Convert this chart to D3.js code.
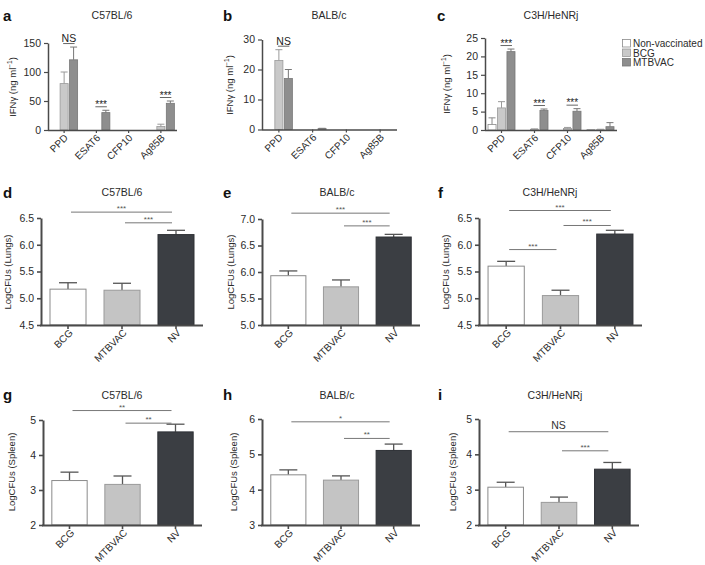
<!DOCTYPE html>
<html>
<head>
<meta charset="utf-8">
<script src="https://cdn.jsdelivr.net/npm/d3@7"></script>
<style>
  body { margin: 0; background: #fff; }
  svg { display: block; font-family: "Liberation Sans", Arial, Helvetica, sans-serif; }
</style>
</head>
<body>
<script>
// ---------------- DATA ----------------
const antigens = ["PPD", "ESAT6", "CFP10", "Ag85B"];
const vaccineSeries = ["Non-vaccinated", "BCG", "MTBVAC"];
const challengeGroups = ["BCG", "MTBVAC", "NV"];

// IFN-gamma (ng/ml) — panel a C57BL/6
const aNonVac = [0, 0, 0, 0];
const aBCG = [80, 0, 0, 6];
const aMTBVAC = [121, 30, 0, 46];
const aNonVacErr = [0, 0, 0, 0];
const aBCGErr = [20, 0, 0, 4];
const aMTBVACErr = [22, 4, 0, 4];
const aSig = [["PPD", "NS"], ["ESAT6", "***"], ["Ag85B", "***"]];
const aTicks = [0, 50, 100, 150];

// panel b BALB/c
const bNonVac = [0, 0, 0, 0];
const bBCG = [23, 0, 0, 0];
const bMTBVAC = [17, 0.3, 0, 0];
const bNonVacErr = [0, 0, 0, 0];
const bBCGErr = [3.6, 0, 0, 0];
const bMTBVACErr = [3, 0.1, 0, 0];
const bSig = [["PPD", "NS"]];
const bTicks = [0, 10, 20, 30];

// panel c C3H/HeNRj
const cNonVac = [1.5, 0, 0, 0.1];
const cBCG = [6.0, 0.2, 0.4, 0.1];
const cMTBVAC = [21.3, 5.3, 5.1, 0.9];
const cNonVacErr = [1.8, 0, 0, 0];
const cBCGErr = [1.7, 0.1, 0.3, 0.1];
const cMTBVACErr = [0.7, 0.4, 0.7, 1.1];
const cSig = [["PPD", "***"], ["ESAT6", "***"], ["CFP10", "***"]];
const cTicks = [0, 5, 10, 15, 20, 25];

// LogCFUs (Lungs)
const dValues = [5.17, 5.15, 6.19];
const dErr = [0.12, 0.13, 0.08];
const dSig = [["BCG", "NV", 6.61, "***"], ["MTBVAC", "NV", 6.41, "***"]];
const dTicks = [4.5, 5.0, 5.5, 6.0, 6.5];

const eValues = [5.93, 5.72, 6.66];
const eErr = [0.09, 0.13, 0.05];
const eSig = [["BCG", "NV", 7.11, "***"], ["MTBVAC", "NV", 6.87, "***"]];
const eTicks = [5.0, 5.5, 6.0, 6.5, 7.0];

const fValues = [5.60, 5.05, 6.20];
const fErr = [0.09, 0.10, 0.07];
const fSig = [["BCG", "NV", 6.64, "***"], ["MTBVAC", "NV", 6.36, "***"], ["BCG", "MTBVAC", 5.91, "***"]];
const fTicks = [4.5, 5.0, 5.5, 6.0, 6.5];

// LogCFUs (Spleen)
const gValues = [3.27, 3.16, 4.66];
const gErr = [0.24, 0.24, 0.22];
const gSig = [["BCG", "NV", 5.27, "**"], ["MTBVAC", "NV", 4.91, "**"]];
const gTicks = [2, 3, 4, 5];

const hValues = [4.42, 4.27, 5.11];
const hErr = [0.14, 0.12, 0.18];
const hSig = [["BCG", "NV", 5.92, "*"], ["MTBVAC", "NV", 5.45, "**"]];
const hTicks = [3, 4, 5, 6];

const iValues = [3.07, 2.64, 3.58];
const iErr = [0.14, 0.15, 0.19];
const iSig = [["BCG", "NV", 4.64, "NS"], ["MTBVAC", "NV", 4.10, "***"]];
const iTicks = [2, 3, 4, 5];

// ---------------- STYLE ----------------
const AXIS = "#4a4a4a";
const TXT = "#2b2b2b";
const topFill = { "Non-vaccinated": "#ffffff", "BCG": "#c9c9c9", "MTBVAC": "#8e8e8e" };
const topStroke = { "Non-vaccinated": "#8a8a8a", "BCG": "#9a9a9a", "MTBVAC": "#777777" };
const botFill = { "BCG": "#ffffff", "MTBVAC": "#c4c4c4", "NV": "#3b3e43" };
const botStroke = { "BCG": "#8a8a8a", "MTBVAC": "#9a9a9a", "NV": "#2e3035" };

const svg = d3.select("body").append("svg").attr("width", 705).attr("height", 565);

function panelLabel(txt, x, y) {
  svg.append("text").attr("x", x).attr("y", y).attr("font-size", 15).attr("font-weight", "bold")
    .attr("fill", "#111").text(txt);
}
function title(txt, x, y) {
  svg.append("text").attr("x", x).attr("y", y).attr("text-anchor", "middle").attr("font-size", 10.5)
    .attr("fill", TXT).text(txt);
}
function styleAxis(g, w) {
  g.select(".domain").attr("stroke", AXIS).attr("stroke-width", w);
  g.selectAll(".tick line").attr("stroke", AXIS).attr("stroke-width", w * 0.8);
  g.selectAll(".tick text").attr("fill", TXT).attr("font-family", "Liberation Sans, Arial, sans-serif");
}
function rotatedLabels(g, x, yBot, dx, dy) {
  x.domain().forEach(k => {
    const cx = x(k) + x.bandwidth() / 2 + dx;
    g.append("text")
      .attr("transform", `translate(${cx},${yBot + dy}) rotate(-45)`)
      .attr("text-anchor", "end").attr("font-size", 10).attr("fill", TXT)
      .attr("dy", "0.35em").text(k);
  });
}

function yTitleIFN(x, cy) {
  const t = svg.append("text").attr("transform", `translate(${x},${cy}) rotate(-90)`)
    .attr("text-anchor", "middle").attr("font-size", 9.5).attr("fill", TXT);
  t.append("tspan").text("IFNγ (ng ml");
  t.append("tspan").attr("font-size", 6.5).attr("dy", -4).text("−1");
  t.append("tspan").attr("dy", 4).text(")");
}
function yTitleText(txt, x, cy) {
  svg.append("text").attr("transform", `translate(${x},${cy}) rotate(-90)`)
    .attr("text-anchor", "middle").attr("font-size", 9.5).attr("fill", TXT).text(txt);
}

function topPanel(p) {
  const g = svg.append("g");
  const y = d3.scaleLinear().domain([0, p.ticks[p.ticks.length - 1]]).range([p.yBot, p.yTop]);
  const x = d3.scaleBand().domain(antigens).range([p.x0, p.x1]).padding(0);
  const xs = d3.scaleBand().domain(vaccineSeries).range([-13.5, 13.5]).paddingInner(0.15);
  const series = [
    { name: "Non-vaccinated", v: p.nv, e: p.nvErr },
    { name: "BCG", v: p.bcg, e: p.bcgErr },
    { name: "MTBVAC", v: p.mtb, e: p.mtbErr }
  ];
  const cx = (a, s) => x(a) + x.bandwidth() / 2 + xs(s) + xs.bandwidth() / 2;
  series.forEach(s => {
    antigens.forEach((a, i) => {
      const v = s.v[i], e = s.e[i];
      if (v > 0) {
        g.append("rect").attr("x", x(a) + x.bandwidth() / 2 + xs(s.name)).attr("width", xs.bandwidth())
          .attr("y", y(v)).attr("height", p.yBot - y(v))
          .attr("fill", topFill[s.name]).attr("stroke", topStroke[s.name]).attr("stroke-width", 0.8);
      }
      if (e > 0) {
        const c = cx(a, s.name);
        g.append("line").attr("x1", c).attr("x2", c).attr("y1", y(v)).attr("y2", y(v + e))
          .attr("stroke", topStroke[s.name]).attr("stroke-width", 1);
        g.append("line").attr("x1", c - 3.5).attr("x2", c + 3.5).attr("y1", y(v + e)).attr("y2", y(v + e))
          .attr("stroke", topStroke[s.name]).attr("stroke-width", 1);
      }
    });
  });
  // significance
  p.sig.forEach(([a, label]) => {
    const i = antigens.indexOf(a);
    const top = Math.max(p.bcg[i] + p.bcgErr[i], p.mtb[i] + p.mtbErr[i]);
    const ly = y(top) - 3.5;
    const x1 = cx(a, "BCG") - 1, x2 = cx(a, "MTBVAC") + 1;
    g.append("line").attr("x1", x1).attr("x2", x2).attr("y1", ly).attr("y2", ly)
      .attr("stroke", "#555").attr("stroke-width", 0.9);
    g.append("text").attr("x", (x1 + x2) / 2).attr("y", label === "NS" ? ly - 1.5 : ly + 1)
      .attr("text-anchor", "middle").attr("font-size", label === "NS" ? 10.5 : 10)
      .attr("fill", "#222").text(label);
  });
  // axes
  const ya = g.append("g").attr("transform", `translate(${p.x0},0)`)
    .call(d3.axisLeft(y).tickValues(p.ticks).tickSize(4).tickSizeOuter(0).tickPadding(3));
  ya.selectAll(".tick text").attr("font-size", 10.5);
  styleAxis(ya, 1.5);
  const xa = g.append("g").attr("transform", `translate(0,${p.yBot})`)
    .call(d3.axisBottom(x).tickSize(3).tickSizeOuter(0));
  xa.selectAll(".tick text").remove();
  styleAxis(xa, 1.5);
  xa.select(".domain").attr("d", `M${p.x0},0.5H${p.x1}`);
  rotatedLabels(g, x, p.yBot, 2, 6);
}

function bottomPanel(p) {
  const g = svg.append("g");
  const y = d3.scaleLinear().domain([p.ticks[0], p.ticks[p.ticks.length - 1]]).range([p.yBot, p.yTop]);
  const x = d3.scaleBand().domain(challengeGroups).range([p.x0, p.x1]).paddingInner(1 / 3).paddingOuter(1 / 6);
  const cx = k => x(k) + x.bandwidth() / 2;
  challengeGroups.forEach((k, i) => {
    const v = p.values[i], e = p.err[i];
    g.append("line").attr("x1", cx(k)).attr("x2", cx(k)).attr("y1", y(v)).attr("y2", y(v + e))
      .attr("stroke", "#555").attr("stroke-width", 1.3);
    g.append("line").attr("x1", cx(k) - 9).attr("x2", cx(k) + 9).attr("y1", y(v + e)).attr("y2", y(v + e))
      .attr("stroke", "#555").attr("stroke-width", 1.3);
    g.append("rect").attr("x", x(k)).attr("width", x.bandwidth())
      .attr("y", y(v)).attr("height", p.yBot - y(v))
      .attr("fill", botFill[k]).attr("stroke", botStroke[k]).attr("stroke-width", 1);
  });
  p.sig.forEach(([a, b, lv, label]) => {
    const ly = y(lv);
    const x1 = cx(a) + 3, x2 = cx(b) - 4;
    g.append("line").attr("x1", x1).attr("x2", x2).attr("y1", ly).attr("y2", ly)
      .attr("stroke", "#777").attr("stroke-width", 1);
    if (label === "NS") {
      g.append("text").attr("x", (x1 + x2) / 2).attr("y", ly - 3).attr("text-anchor", "middle")
        .attr("font-size", 10.5).attr("fill", "#333").text(label);
    } else {
      g.append("text").attr("x", (x1 + x2) / 2).attr("y", ly - 1).attr("text-anchor", "middle")
        .attr("font-size", 8).attr("fill", "#555").text(label);
    }
  });
  const ya = g.append("g").attr("transform", `translate(${p.x0},0)`)
    .call(d3.axisLeft(y).tickValues(p.ticks).tickSize(4).tickSizeOuter(0).tickPadding(3)
      .tickFormat(p.fmt ? d3.format(p.fmt) : d3.format("d")));
  ya.selectAll(".tick text").attr("font-size", 10.5);
  styleAxis(ya, 2);
  const xa = g.append("g").attr("transform", `translate(0,${p.yBot})`)
    .call(d3.axisBottom(x).tickSize(4).tickSizeOuter(0));
  xa.selectAll(".tick text").remove();
  styleAxis(xa, 2);
  xa.select(".domain").attr("d", `M${p.x0 - 1},0.5H${p.x1}`);
  rotatedLabels(g, x, p.yBot, 3, 6);
}

// ---------------- TOP ROW ----------------
panelLabel("a", 3, 21); title("C57BL/6", 112, 19); yTitleIFN(16, 87);
topPanel({ x0: 48, x1: 177, yTop: 43, yBot: 130, ticks: aTicks,
  nv: aNonVac, bcg: aBCG, mtb: aMTBVAC, nvErr: aNonVacErr, bcgErr: aBCGErr, mtbErr: aMTBVACErr, sig: aSig });

panelLabel("b", 223, 21); title("BALB/c", 329, 19); yTitleIFN(233, 85);
topPanel({ x0: 262, x1: 397, yTop: 39.5, yBot: 129.5, ticks: bTicks,
  nv: bNonVac, bcg: bBCG, mtb: bMTBVAC, nvErr: bNonVacErr, bcgErr: bBCGErr, mtbErr: bMTBVACErr, sig: bSig });

panelLabel("c", 437, 21); title("C3H/HeNRj", 551, 19); yTitleIFN(450, 84);
topPanel({ x0: 485, x1: 617, yTop: 38, yBot: 130, ticks: cTicks,
  nv: cNonVac, bcg: cBCG, mtb: cMTBVAC, nvErr: cNonVacErr, bcgErr: cBCGErr, mtbErr: cMTBVACErr, sig: cSig });

// legend
const leg = svg.append("g");
vaccineSeries.forEach((s, i) => {
  leg.append("rect").attr("x", 622.5).attr("y", 39.5 + i * 9.5).attr("width", 8).attr("height", 7.5)
    .attr("fill", topFill[s]).attr("stroke", topStroke[s]).attr("stroke-width", 0.8);
  leg.append("text").attr("x", 633).attr("y", 47 + i * 9.5).attr("font-size", 10).attr("fill", TXT).text(s);
});

// ---------------- MIDDLE ROW ----------------
panelLabel("d", 3, 198); title("C57BL/6", 122, 196); yTitleText("LogCFUs (Lungs)", 11, 272);
bottomPanel({ x0: 41, x1: 203, yTop: 218, yBot: 325, ticks: dTicks, fmt: ".1f", values: dValues, err: dErr, sig: dSig });

panelLabel("e", 223, 198); title("BALB/c", 337, 196); yTitleText("LogCFUs (Lungs)", 234, 272);
bottomPanel({ x0: 262, x1: 420, yTop: 219, yBot: 325, ticks: eTicks, fmt: ".1f", values: eValues, err: eErr, sig: eSig });

panelLabel("f", 438, 198); title("C3H/HeNRj", 550, 196); yTitleText("LogCFUs (Lungs)", 449, 272);
bottomPanel({ x0: 479, x1: 642, yTop: 218, yBot: 325, ticks: fTicks, fmt: ".1f", values: fValues, err: fErr, sig: fSig });

// ---------------- BOTTOM ROW ----------------
panelLabel("g", 3, 400); title("C57BL/6", 122, 399); yTitleText("LogCFUs (Spleen)", 15, 472);
bottomPanel({ x0: 43, x1: 202, yTop: 420, yBot: 525, ticks: gTicks, values: gValues, err: gErr, sig: gSig });

panelLabel("h", 223, 400); title("BALB/c", 337, 399); yTitleText("LogCFUs (Spleen)", 237, 472);
bottomPanel({ x0: 262, x1: 420, yTop: 419, yBot: 525, ticks: hTicks, values: hValues, err: hErr, sig: hSig });

panelLabel("i", 438, 400); title("C3H/HeNRj", 555, 399); yTitleText("LogCFUs (Spleen)", 456, 472);
bottomPanel({ x0: 479, x1: 639, yTop: 419, yBot: 525, ticks: iTicks, values: iValues, err: iErr, sig: iSig });
</script>
</body>
</html>
